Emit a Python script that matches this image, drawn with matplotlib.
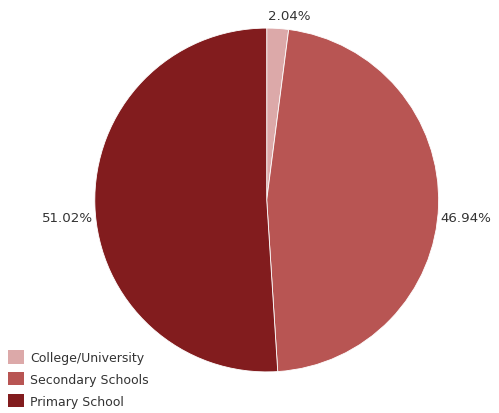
import numpy as np
import matplotlib
matplotlib.use("Agg")
from matplotlib import pyplot as plt
from matplotlib.patches import Patch

categories = ["College/University", "Secondary Schools", "Primary School"]
shares = [2.04, 46.94, 51.02]
colors = ["#dca9a9", "#b85553", "#821c1e"]

fig = plt.figure(figsize=(4.99, 4.14), dpi=100)
ax = fig.add_axes([0.190, 0.099, 0.689, 0.831])

wedges, texts = ax.pie(shares, colors=colors, startangle=90, counterclock=False,
                       labels=["%.2f%%" % s for s in shares], labeldistance=1.02,
                       wedgeprops=dict(edgecolor="white", linewidth=0.6),
                       textprops=dict(fontsize=9.6, color="#333333"))
ax.set_aspect("equal")
ax.set_xlim(-1, 1)
ax.set_ylim(-1, 1)

# nudge labels like the original
for t, w in zip(texts, wedges):
    ang = np.deg2rad((w.theta1 + w.theta2) / 2)
    t.set_clip_on(False)
    if abs(np.sin(ang)) > 0.9:
        t.set_position((np.cos(ang) * 1.0 - 0.055, np.sin(ang) * 1.04))
        t.set_va("bottom")
        t.set_ha("left")
    else:
        t.set_va("top")
        t.set_position((np.cos(ang) * 1.01, np.sin(ang) * 1.01 - 0.03))

handles = [Patch(facecolor=c, edgecolor="none") for c in colors]
fig.legend(handles, categories, loc="lower left", bbox_to_anchor=(0.006, 0.0),
           frameon=False, fontsize=9, handlelength=1.25, handleheight=1.25,
           handletextpad=0.5, labelspacing=0.65, labelcolor="#333333",
           borderaxespad=0.1, borderpad=0.3)

fig.savefig("out.png", dpi=100)
